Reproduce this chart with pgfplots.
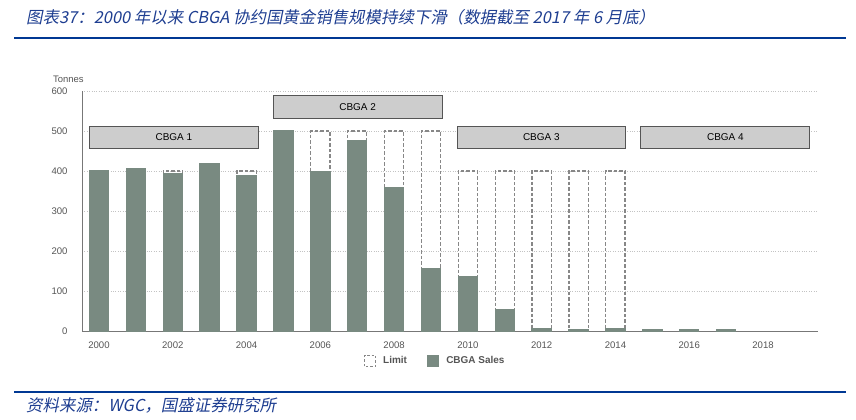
\documentclass[border=0pt]{standalone}
\usepackage{pgfplots}
\pgfplotsset{compat=1.18}
\usepackage{fontspec}
\setmainfont{Liberation Sans}
\newfontfamily\cjk[FakeSlant=0.2]{Noto Sans CJK SC}
\definecolor{salescol}{RGB}{121,138,129}
\definecolor{limitcol}{RGB}{135,135,135}
\definecolor{boxfill}{RGB}{205,205,205}
\definecolor{boxdraw}{RGB}{85,85,85}
\definecolor{gridcol}{RGB}{195,195,195}
\definecolor{ticktext}{RGB}{85,85,85}
\definecolor{titleblue}{RGB}{30,62,145}
\definecolor{lineblue}{RGB}{0,56,147}
\pgfplotstableread{
year limit
2002 400
2004 400
2006 500
2007 500
2008 500
2009 500
2010 400
2011 400
2012 400
2013 400
2014 400
}\limitdata
\pgfplotstableread{
year sales
2000 400
2001 406
2002 393
2003 418
2004 388
2005 500
2006 398
2007 476
2008 358
2009 157
2010 137
2011 54
2012 6
2013 4
2014 6
2015 4
2016 2.5
2017 4
}\salesdata
\begin{document}
\begin{tikzpicture}
\useasboundingbox (0bp,0bp) rectangle (856bp,420bp);
\fill[white] (0bp,0bp) rectangle (856bp,420bp);
\node[anchor=west, text=titleblue, font=\cjk\fontsize{16.5}{18}\selectfont, inner sep=0pt] at (26bp,403bp) {图表37：2000 年以来 CBGA 协约国黄金销售规模持续下滑（数据截至 2017 年 6 月底）};
\draw[lineblue, line width=2.5bp] (14bp,382bp) -- (846bp,382bp);
\draw[lineblue, line width=2.5bp] (14bp,28bp) -- (846bp,28bp);
\node[anchor=west, text=titleblue, font=\cjk\fontsize{16.5}{18}\selectfont, inner sep=0pt] at (26bp,15bp) {资料来源：WGC，国盛证券研究所};
\node[anchor=west, text=ticktext, font=\fontsize{9.5}{11}\selectfont, inner sep=0pt] at (53bp,341bp) {Tonnes};
\begin{axis}[
  at={(82bp,89bp)}, anchor=south west,
  width=736bp, height=240bp, scale only axis,
  xmin=1999.54, xmax=2019.49, ymin=0, ymax=600,
  ybar,
  axis x line*=bottom, axis y line*=left,
  axis line style={draw=ticktext!80, line width=0.8bp, -},
  xtick={2000,2002,...,2018}, ytick={0,100,...,600},
  major tick length=0pt,
  ymajorgrids, grid style={dotted, gridcol, line width=0.7bp},
  /pgf/number format/assume math mode=true,
  x tick label style={/pgf/number format/1000 sep={}, font=\fontsize{9.6}{10}\selectfont, text=ticktext, yshift=-7bp},
  y tick label style={font=\fontsize{9.6}{10}\selectfont, text=ticktext, xshift=-11bp},
  legend style={at={(0.48,-0.125)}, anchor=center, draw=none, fill=none,
    legend columns=2, font=\bfseries\fontsize{10}{11}\selectfont, text=ticktext,
    /tikz/every odd column/.append style={column sep=5bp},
    /tikz/every even column/.append style={column sep=18bp}},
  clip=false,
]
\addplot[draw=limitcol, fill=none, line width=1.2bp, dash pattern=on 3.5bp off 2bp, bar width=0.52, bar shift=0pt,
  legend image code/.code={\draw[draw=limitcol, line width=1.1bp, dash pattern=on 2.5bp off 2bp] (0bp,-5.5bp) rectangle (11bp,5.5bp);}]
  table[x=year, y=limit] {\limitdata};
\addlegendentry{Limit}
\addplot[draw=salescol, line width=1.3bp, fill=salescol, bar width=0.52, bar shift=0pt,
  legend image code/.code={\fill[salescol] (0bp,-5.5bp) rectangle (11bp,5.5bp);}]
  table[x=year, y=sales] {\salesdata};
\addlegendentry{CBGA Sales}
\draw[fill=boxfill, draw=boxdraw, line width=1.1bp] (axis cs:1999.74,457) rectangle (axis cs:2004.32,512);
\node[font=\fontsize{10}{11}\selectfont] at (axis cs:2002.03,484.5) {CBGA 1};
\draw[fill=boxfill, draw=boxdraw, line width=1.1bp] (axis cs:2004.72,532) rectangle (axis cs:2009.30,588);
\node[font=\fontsize{10}{11}\selectfont] at (axis cs:2007.01,560) {CBGA 2};
\draw[fill=boxfill, draw=boxdraw, line width=1.1bp] (axis cs:2009.71,457) rectangle (axis cs:2014.27,512);
\node[font=\fontsize{10}{11}\selectfont] at (axis cs:2011.99,484.5) {CBGA 3};
\draw[fill=boxfill, draw=boxdraw, line width=1.1bp] (axis cs:2014.69,457) rectangle (axis cs:2019.26,512);
\node[font=\fontsize{10}{11}\selectfont] at (axis cs:2016.98,484.5) {CBGA 4};
\end{axis}
\end{tikzpicture}
\end{document}
